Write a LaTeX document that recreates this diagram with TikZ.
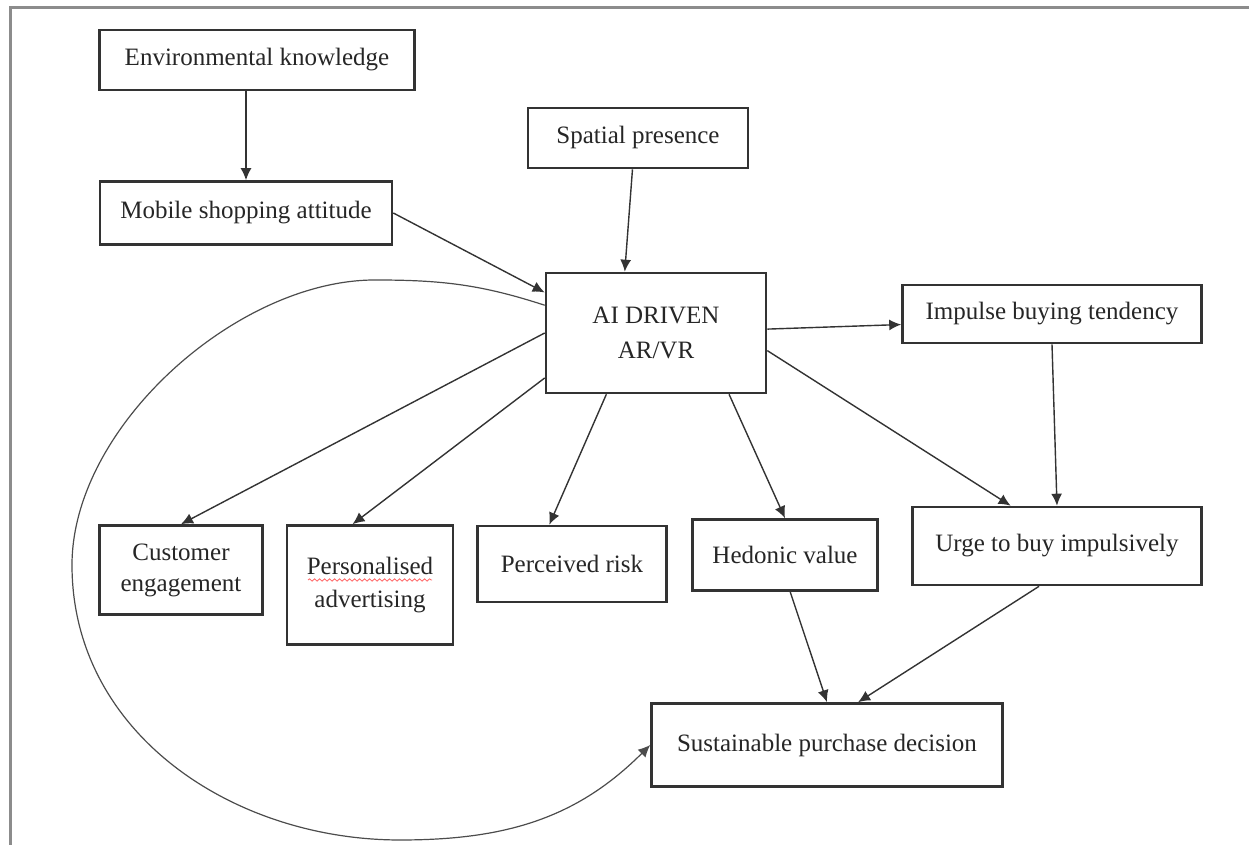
\documentclass[tikz,border=0pt]{standalone}
\usepackage{fontspec}
\setmainfont{Liberation Serif}
\usetikzlibrary{arrows.meta,decorations.pathmorphing}

\begin{document}
\begin{tikzpicture}[x=0.5pt, y=0.5pt,
        box/.style={draw=black!80, line width=1.3pt, fill=white, text=black!85,
            align=center, inner sep=0pt, font=\fontsize{12.5}{15.5}\selectfont},
        arr/.style={draw=black!80, line width=0.7pt, -{Latex[length=6pt,width=5.5pt]}}]

        \useasboundingbox (0,0) rectangle (1249,845);
        % Cornice
        \draw[black!45, line width=1.5pt] (10,0) -- (10,837) -- (1249,837);

        % Riquadri in alto
        \node[box, minimum width=157.5pt, minimum height=30pt] (env) at (257,785) {Environmental knowledge};
        \node[box, minimum width=146pt, minimum height=31.5pt] (mob) at (246,632) {Mobile shopping attitude};
        \node[box, minimum width=110pt, minimum height=30pt] (spa) at (638,707) {Spatial presence};
        \node[box, minimum width=110pt, minimum height=60pt] (ai) at (656,512) {AI DRIVEN\\[2pt] AR/VR};
        \node[box, minimum width=149.5pt, minimum height=29pt] (imp) at (1052,531) {Impulse buying tendency};

        % Riquadri in basso
        \node[box, minimum width=81.5pt, minimum height=44.5pt] (cust) at (181,275) {Customer\\ engagement};
        \node[box, minimum width=83pt, minimum height=59.5pt] (pers) at (370,260) {Personalised\\[1pt] advertising};
        \node[box, minimum width=94.5pt, minimum height=38pt] (risk) at (572,281) {Perceived risk};
        \node[box, minimum width=92.5pt, minimum height=35.5pt] (hed) at (785,290) {Hedonic value};
        \node[box, minimum width=144.5pt, minimum height=39pt] (urge) at (1057,299) {Urge to buy impulsively};
        \node[box, minimum width=175.5pt, minimum height=41.5pt] (sust) at (827,100) {Sustainable purchase decision};

        % Sottolineatura rossa
        \draw[red!60, line width=0.4pt, decorate, decoration={snake, amplitude=0.6pt, segment length=2.5pt}]
            (308,265) -- (432,265);

        % Frecce
        \draw[arr] (env.south -| mob.north) -- (mob.north);
        \draw[arr] (mob.east) -- (ai.160);
        \draw[arr] (spa.260) -- (ai.117);
        \draw[arr] (ai.2) -- (imp.184);
        \draw[arr] (ai.west) -- (cust.north);
        \draw[arr] (ai.202) -- (pers.106);
        \draw[arr] (ai.231) -- (risk.120);
        \draw[arr] (ai.320) -- (hed.north);
        \draw[arr] (ai.351) -- (urge.139);
        \draw[arr] (imp.south) -- (urge.north);
        \draw[arr] (hed.278) -- (sust.north);
        \draw[arr] (urge.246) -- (sust.54);

        % Arco grande
        \draw[arr, line width=0.6pt, draw=black!70] (ai.166) to[out=162,in=0] (375,565)
            to[out=180,in=90,looseness=0.85] (72,280) to[out=270,in=180] (400,5) to[out=0,in=225] (sust.west);
    \end{tikzpicture}
\end{document}
